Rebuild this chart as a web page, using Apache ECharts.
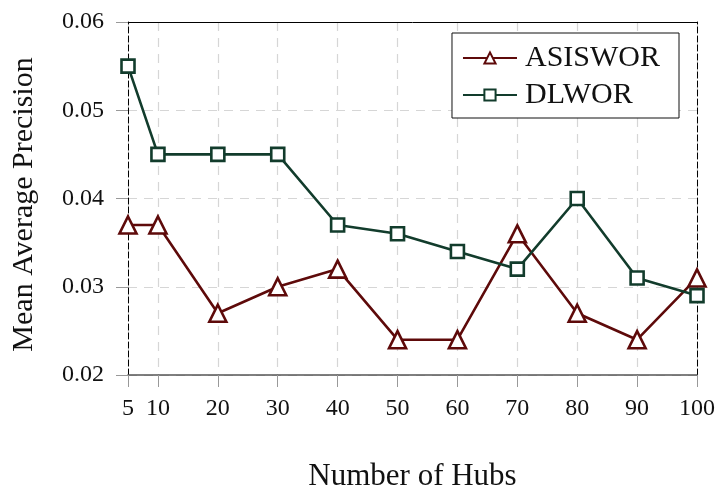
<!DOCTYPE html>
<html>
<head>
<meta charset="utf-8">
<script src="https://cdn.jsdelivr.net/npm/echarts@6/dist/echarts.min.js"></script>
<style>
  html, body { margin: 0; padding: 0; background: #fff; }
  #chart { width: 718px; height: 488px; }
</style>
</head>
<body>
<div id="chart"></div>
<script>
// Number of hubs on the x axis and mean average precision per method
const hubs = [5, 10, 20, 30, 40, 50, 60, 70, 80, 90, 100];
const asiswor = [0.037, 0.037, 0.027, 0.030, 0.032, 0.024, 0.024, 0.036, 0.027, 0.024, 0.031];
const dlwor = [0.055, 0.045, 0.045, 0.045, 0.037, 0.036, 0.034, 0.032, 0.040, 0.031, 0.029];
const yTicks = [0.02, 0.03, 0.04, 0.05, 0.06];

const FONT = '"Liberation Serif", "DejaVu Serif", serif';
const RED = '#5e0a0a';
const GREEN = '#123c2c';

const pairs = (xs, ys) => xs.map((x, i) => [x, ys[i]]);

const chart = echarts.init(document.getElementById('chart'), null, { renderer: 'canvas' });

chart.setOption({
  animation: false,
  grid: { left: 128, right: 21, top: 22, bottom: 113, outerBoundsMode: 'none', containLabel: false },
  legend: {
    right: 39,
    top: 33,
    orient: 'vertical',
    backgroundColor: '#fff',
    borderColor: '#111',
    borderWidth: 1,
    padding: [10, 19, 8, 10],
    itemGap: 7,
    itemWidth: 54,
    itemHeight: 14,
    textStyle: { fontFamily: FONT, fontSize: 30, color: '#111', padding: [0, 0, 0, 3] },
    data: ['ASISWOR', 'DLWOR']
  },
  xAxis: [
    {
      type: 'value',
      min: 5,
      max: 100,
      name: 'Number of Hubs',
      nameLocation: 'middle',
      nameGap: 86,
      nameTextStyle: { fontFamily: FONT, fontSize: 31, color: '#111' },
      axisLine: { show: true, lineStyle: { color: '#555', width: 1.6 } },
      axisTick: { show: true, inside: false, length: 12, lineStyle: { color: '#999' }, customValues: hubs },
      axisLabel: { fontFamily: FONT, fontSize: 24, color: '#111', margin: 22, customValues: hubs },
      splitLine: { show: true, lineStyle: { color: '#d6d6d6', type: [9, 7], width: 1.2 } }
    },
    {
      type: 'value',
      position: 'top',
      min: 5,
      max: 100,
      axisLine: { show: true, lineStyle: { color: '#000', width: 1 } },
      axisTick: { show: false },
      axisLabel: { show: false },
      splitLine: { show: false }
    }
  ],
  yAxis: [
    {
      type: 'value',
      min: 0.02,
      max: 0.06,
      interval: 0.01,
      name: 'Mean Average Precision',
      nameLocation: 'middle',
      nameGap: 89,
      nameRotate: 90,
      nameTextStyle: { fontFamily: FONT, fontSize: 30, color: '#111', padding: [0, 12, 0, 0] },
      axisLine: { show: true, lineStyle: { color: '#000', type: [6, 3], width: 1 } },
      axisTick: { show: true, inside: false, length: 12, lineStyle: { color: '#999' }, customValues: yTicks },
      axisLabel: {
        fontFamily: FONT, fontSize: 24, color: '#111', margin: 24,
        customValues: yTicks,
        formatter: v => v.toFixed(2)
      },
      splitLine: { show: true, lineStyle: { color: '#d6d6d6', type: [9, 7], width: 1.2 } }
    },
    {
      type: 'value',
      position: 'right',
      min: 0.02,
      max: 0.06,
      interval: 0.01,
      axisLine: { show: true, lineStyle: { color: '#000', type: [6, 3], width: 1 } },
      axisTick: { show: false },
      axisLabel: { show: false },
      splitLine: { show: false }
    }
  ],
  series: [
    {
      name: 'ASISWOR',
      type: 'line',
      data: pairs(hubs, asiswor),
      color: RED,
      symbol: 'triangle',
      symbolSize: 17,
      showAllSymbol: true,
      lineStyle: { color: RED, width: 2.6 },
      itemStyle: { color: '#fff', borderColor: RED, borderWidth: 2.6 },
      z: 3
    },
    {
      name: 'DLWOR',
      type: 'line',
      data: pairs(hubs, dlwor),
      color: GREEN,
      symbol: 'rect',
      symbolSize: 13,
      showAllSymbol: true,
      lineStyle: { color: GREEN, width: 2.6 },
      itemStyle: { color: '#fff', borderColor: GREEN, borderWidth: 2.6 },
      z: 3
    }
  ]
});
</script>
</body>
</html>
